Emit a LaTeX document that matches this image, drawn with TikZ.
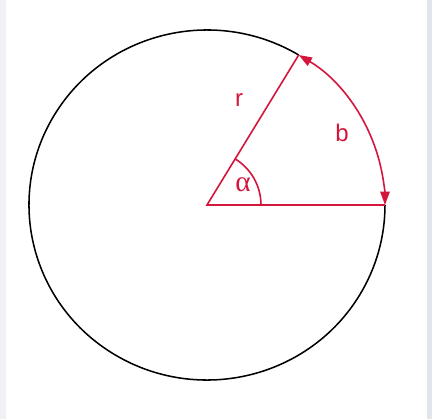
\documentclass[tikz,border=0pt]{standalone}
\usepackage{fontspec}
\setmainfont{Liberation Sans}
\newfontfamily\greekfont{Liberation Serif}
\usetikzlibrary{arrows.meta,calc}
\definecolor{redline}{RGB}{212,22,60}
\definecolor{edgeL}{RGB}{239,241,244}
\definecolor{edgeR}{RGB}{226,230,236}
\begin{document}
\begin{tikzpicture}[x=0.75pt,y=0.75pt,
  circ/.style={draw=black,line width=1.15pt},
  redl/.style={draw=redline,line width=1.2pt},
  tip/.style={-{Triangle[length=10pt,width=7pt]}},
  lbl/.style={text=redline,font=\fontsize{18}{18}\selectfont,inner sep=0pt}]
\useasboundingbox (0,0) rectangle (432,419);
\fill[white] (0,0) rectangle (432,419);
\fill[edgeL] (0,0) rectangle (6,419);
\fill[edgeR] (427,0) rectangle (432,419);
\coordinate (O) at (207,214);
\coordinate (A) at ($(O)+(178,0)$);
\coordinate (P) at ($(O)+({178*cos(59)},{175*sin(59)})$);
\coordinate (M) at ($(O)+({178*cos(12)},{175*sin(12)})$);
\draw[circ] (P) arc[start angle=59,end angle=360,x radius=178,y radius=175];
\draw[redl] (A) -- (O) -- (P);
\draw[redl] ($(O)+(54,0)$) arc[start angle=0,end angle=59,radius=54];
\draw[redl,tip] (M) arc[start angle=12,end angle=0,x radius=178,y radius=175];
\draw[redl,tip] (M) arc[start angle=12,end angle=59,x radius=178,y radius=175];
\node[lbl] (r) at (239,319) {r};
\node[lbl] (b) at (342,286) {b};
\node[lbl,font=\greekfont\fontsize{22}{22}\selectfont] (al) at (243,234) {α};
\end{tikzpicture}
\end{document}
